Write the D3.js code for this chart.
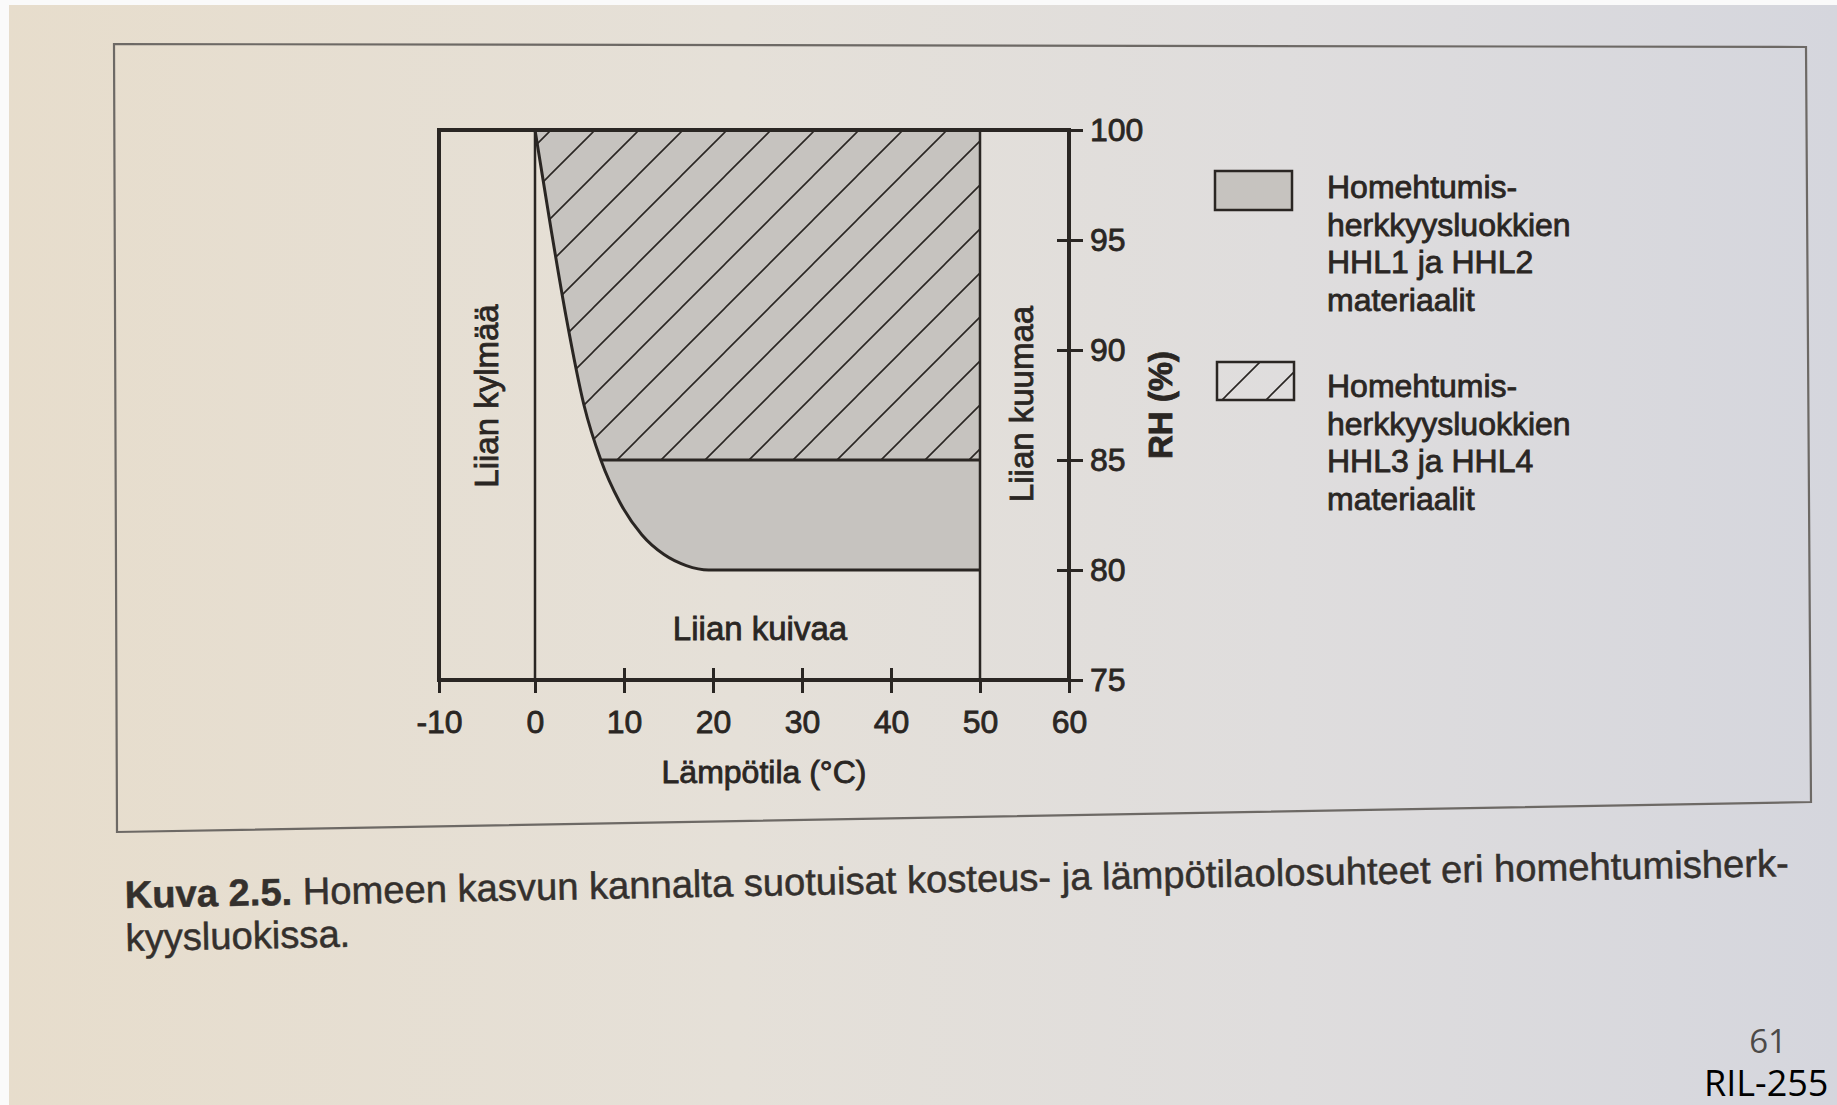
<!DOCTYPE html>
<html>
<head>
<meta charset="utf-8">
<title>Kuva 2.5</title>
<style>
  body { margin: 0; background: #e0ddd6; }
  svg text { font-family: "Liberation Sans", Arial, sans-serif; fill: #2a2623; }
  .inked text { stroke: #2a2623; stroke-width: 0.8px; }
</style>
</head>
<body>
<svg id="page" width="1837" height="1105"></svg>

<script src="https://cdn.jsdelivr.net/npm/d3@7/dist/d3.min.js"></script>
<script>
// axis ticks
let xTicks = [-10, 0, 10, 20, 30, 40, 50, 60]
let yTicks = [75, 80, 85, 90, 95, 100]

// lower limit curve for mould growth (temperature °C, RH %)
let curveTemp = [0, 1.8, 3.5, 5.5, 7.4, 9.5, 12, 14.5, 17, 19.5, 50]
let curveRH   = [100, 95.5, 91.5, 87.5, 85, 83.1, 81.6, 80.7, 80.2, 80, 80]

// zone limits
let coldLimit = 0
let hotLimit = 50
let hatchLimit = 85

let legend1 = ["Homehtumis-", "herkkyysluokkien", "HHL1 ja HHL2", "materiaalit"]
let legend2 = ["Homehtumis-", "herkkyysluokkien", "HHL3 ja HHL4", "materiaalit"]

let captionBold = "Kuva 2.5."
let captionLine1 = " Homeen kasvun kannalta suotuisat kosteus- ja lämpötilaolosuhteet eri homehtumisherk-"
let captionLine2 = "kyysluokissa."

let ink = "#2a2623"
let grey = "#c6c3bf"

let svg = d3.select("#page")
let defs = svg.append("defs")

// paper background
let bg = defs.append("linearGradient").attr("id", "paper")
bg.append("stop").attr("offset", "0%").attr("stop-color", "#e7ddcc")
bg.append("stop").attr("offset", "40%").attr("stop-color", "#e5e0d8")
bg.append("stop").attr("offset", "70%").attr("stop-color", "#dfdddd")
bg.append("stop").attr("offset", "100%").attr("stop-color", "#d5d6dd")
svg.append("rect").attr("width", 1837).attr("height", 1105).attr("fill", "url(#paper)")
svg.append("rect").attr("width", 1837).attr("height", 5).attr("fill", "#fafafa")
svg.append("rect").attr("width", 9).attr("height", 1105).attr("fill", "#fafafa")

// figure frame (photo is a bit skewed)
svg.append("path")
    .attr("d", "M114,44 L1806,47 L1811,802 L117,832 Z")
    .attr("fill", "none").attr("stroke", "#6d6965").attr("stroke-width", 2.2)

// hatch patterns
function hatch(id, offset) {
    defs.append("pattern").attr("id", id)
        .attr("patternUnits", "userSpaceOnUse")
        .attr("x", offset).attr("y", 0)
        .attr("width", 44).attr("height", 44)
        .append("path")
        .attr("d", "M-11,11 L11,-11 M0,44 L44,0 M33,55 L55,33")
        .attr("stroke", ink).attr("stroke-width", 1.6)
}
hatch("hatch", 21)
hatch("hatchLegend", 38)

let x = d3.scaleLinear().domain([-10, 0, 60]).range([439, 535, 1069])
let y = d3.scaleLinear().domain([75, 100]).range([680, 130])

let curve = curveTemp.map((t, i) => ({t: t, rh: curveRH[i]}))

let chart = svg.append("g").attr("class", "inked")

let smooth = d3.curveMonotoneX

let area = d3.area()
    .x(d => x(d.t))
    .y0(y(100))
    .y1(d => y(d.rh))
    .curve(smooth)

chart.append("path").datum(curve).attr("d", area).attr("fill", grey)

defs.append("clipPath").attr("id", "upper")
    .append("rect")
    .attr("x", x(coldLimit)).attr("y", y(100))
    .attr("width", x(hotLimit) - x(coldLimit))
    .attr("height", y(hatchLimit) - y(100))

chart.append("path").datum(curve).attr("d", area)
    .attr("fill", "url(#hatch)").attr("clip-path", "url(#upper)")

// zone borders
chart.selectAll(".zone").data([coldLimit, hotLimit]).enter()
    .append("line")
    .attr("x1", d => x(d)).attr("x2", d => x(d))
    .attr("y1", y(100)).attr("y2", y(75))
    .attr("stroke", ink).attr("stroke-width", 2.5)

let line = d3.line().x(d => x(d.t)).y(d => y(d.rh)).curve(smooth)

chart.append("path").datum(curve).attr("d", line)
    .attr("fill", "none").attr("stroke", ink).attr("stroke-width", 3)

let start85 = curve.find(d => d.rh <= hatchLimit)
chart.append("path").datum([start85, {t: hotLimit, rh: hatchLimit}]).attr("d", d3.line().x(d => x(d.t)).y(d => y(d.rh)))
    .attr("fill", "none").attr("stroke", ink).attr("stroke-width", 3.2)

// outer box of the plot
chart.append("rect")
    .attr("x", x(-10)).attr("y", y(100))
    .attr("width", x(60) - x(-10)).attr("height", y(75) - y(100))
    .attr("fill", "none").attr("stroke", ink).attr("stroke-width", 4)

// axes
let xAxis = d3.axisBottom(x).tickValues(xTicks).tickFormat(d => String(d))
    .tickSize(13).tickSizeOuter(0).tickPadding(17)
let gx = chart.append("g").attr("transform", "translate(0," + y(75) + ")").call(xAxis)
gx.select(".domain").remove()
gx.selectAll(".tick line").attr("stroke-width", 3)
    .attr("y1", d => (d > coldLimit && d < hotLimit) ? -12 : 0)
gx.selectAll("text").attr("font-size", 32).attr("font-family", null)

let yAxis = d3.axisRight(y).tickValues(yTicks).tickSize(14).tickSizeOuter(0).tickPadding(7)
let gy = chart.append("g").attr("transform", "translate(" + x(60) + ",0)").call(yAxis)
gy.select(".domain").remove()
gy.selectAll(".tick line").attr("stroke-width", 3)
    .attr("x1", d => (d > 75 && d < 100) ? -12 : 0)
gy.selectAll("text").attr("font-size", 32).attr("font-family", null)
gx.attr("color", ink)
gy.attr("color", ink)

// labels
chart.append("text").text("Lämpötila (°C)")
    .attr("x", 764).attr("y", 783).attr("text-anchor", "middle").attr("font-size", 32)
chart.append("text").text("Liian kuivaa")
    .attr("x", 760).attr("y", 640).attr("text-anchor", "middle").attr("font-size", 33)
chart.append("text").text("Liian kylmää")
    .attr("text-anchor", "middle").attr("font-size", 33)
    .attr("transform", "translate(498,396) rotate(-90)")
chart.append("text").text("Liian kuumaa")
    .attr("text-anchor", "middle").attr("font-size", 33)
    .attr("transform", "translate(1033,404) rotate(-90)")
chart.append("text").text("RH (%)")
    .attr("text-anchor", "middle").attr("font-size", 33).attr("font-weight", "bold")
    .attr("transform", "translate(1172,405) rotate(-90)")

// legend
let lg = svg.append("g").attr("class", "inked")
lg.append("rect").attr("x", 1215).attr("y", 171).attr("width", 77).attr("height", 39)
    .attr("fill", grey).attr("stroke", ink).attr("stroke-width", 2.5)
lg.append("rect").attr("x", 1217).attr("y", 362).attr("width", 77).attr("height", 38)
    .attr("fill", "url(#hatchLegend)").attr("stroke", ink).attr("stroke-width", 2.5)

function legendText(lines, top) {
    lg.append("text").attr("font-size", 32)
        .selectAll("tspan").data(lines).enter()
        .append("tspan")
        .attr("x", 1327)
        .attr("y", (d, i) => top + i * 37.5)
        .text(d => d)
}
legendText(legend1, 198)
legendText(legend2, 397)

// caption
let cap = svg.append("g").attr("transform", "rotate(-1.1,125,908)")
let c1 = cap.append("text").attr("x", 125).attr("y", 908).attr("font-size", 36)
    .style("fill", "#34302d").style("stroke", "#34302d").style("stroke-width", "0.5px")
c1.append("tspan").attr("font-weight", "bold").text(captionBold)
c1.append("tspan").text(captionLine1)
let w = c1.node().getComputedTextLength()
let fs = 36 * 1665 / w
c1.attr("font-size", fs)
cap.append("text").attr("x", 125).attr("y", 951).attr("font-size", fs)
    .style("fill", "#34302d").style("stroke", "#34302d").style("stroke-width", "0.5px")
    .text(captionLine2)

// page number and footer
svg.append("text").text("61").attr("x", 1768).attr("y", 1053)
    .attr("text-anchor", "middle").attr("font-size", 33)
    .style("font-family", "'Open Sans', 'Noto Sans', sans-serif").style("fill", "#4c4a48")
svg.append("text").text("RIL-255").attr("x", 1704).attr("y", 1096)
    .attr("font-size", 36)
    .style("font-family", "'Open Sans', 'Noto Sans', sans-serif").style("fill", "#000")
</script>
</body>
</html>
